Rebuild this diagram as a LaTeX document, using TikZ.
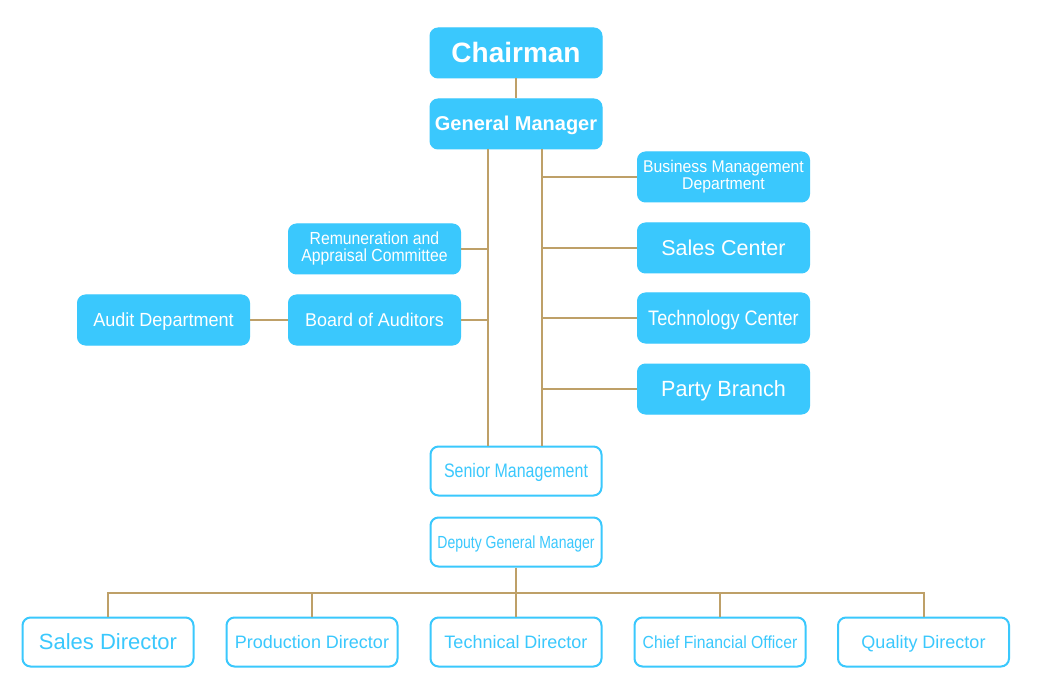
\documentclass[tikz,border=0pt]{standalone}
\usepackage{fontspec}
\setmainfont{Liberation Sans}
\usepackage{graphicx}
\definecolor{boxblue}{RGB}{58,200,253}
\definecolor{linetan}{RGB}{190,160,104}
\newcommand{\fs}[2]{\fontsize{#1}{#2}\selectfont}
\newcommand{\sx}[2]{\scalebox{#1}[1]{#2}}
\newcommand{\cc}[1]{\smash{#1}\vphantom{H}}
\tikzset{
  filled/.style={rectangle, rounded corners=8pt, fill=boxblue, draw=boxblue, line width=1pt,
    minimum width=172pt, minimum height=50pt, text=white, inner sep=0pt, align=center},
  outlined/.style={rectangle, rounded corners=8pt, fill=white, draw=boxblue, line width=2pt,
    minimum width=171pt, minimum height=49pt, text=boxblue, inner sep=0pt, align=center},
  conn/.style={draw=linetan, line width=2pt},
}
\begin{document}
\begin{tikzpicture}[x=1pt,y=-1pt]
\useasboundingbox[fill=white] (0,0) rectangle (1042,695);
% top
\node[filled] (chair) at (516,53) {\fs{28}{30}\bfseries\cc{Chairman}};
\node[filled] (gm) at (516,124) {\fs{20}{22}\bfseries\cc{General Manager}};
% right column
\node[filled] (bmd) at (723.5,177) {\sx{0.93}{\fs{17}{16}\begin{tabular}{@{}c@{}}Business Management\\Department\end{tabular}}};
\node[filled] (sc) at (723.5,248) {\fs{21.5}{24}\cc{Sales Center}};
\node[filled] (tc) at (723.5,318) {\sx{0.86}{\fs{21}{24}\cc{Technology Center}}};
\node[filled] (pb) at (723.5,389) {\sx{0.98}{\fs{22}{24}\cc{Party Branch}}};
% left column
\node[filled] (rem) at (374.5,249) {\sx{0.9}{\fs{17.5}{15}\begin{tabular}{@{}c@{}}Remuneration and\\Appraisal Committee\end{tabular}}};
\node[filled] (boa) at (374.5,320) {\sx{0.97}{\fs{18.5}{20}\cc{Board of Auditors}}};
\node[filled] (audit) at (163.5,320) {\sx{0.95}{\fs{19}{20}\cc{Audit Department}}};
% middle
\node[outlined] (sm) at (516,471) {\sx{0.82}{\fs{19.5}{20}\cc{Senior Management}}};
\node[outlined] (dgm) at (516,542) {\sx{0.8}{\fs{17.5}{18}\cc{Deputy General Manager}}};
% bottom row
\node[outlined] (sd) at (108,642) {\fs{22}{24}\cc{Sales Director}};
\node[outlined] (pd) at (312,642) {\fs{18}{20}\cc{Production Director}};
\node[outlined] (td) at (516,642) {\fs{18}{20}\cc{Technical Director}};
\node[outlined] (cfo) at (720,642) {\sx{0.9}{\fs{17.5}{20}\cc{Chief Financial Officer}}};
\node[outlined] (qd) at (923.5,642) {\fs{18}{20}\cc{Quality Director}};
% helper coordinates
\coordinate (L) at (488,0);
\coordinate (R) at (542,0);
\coordinate (bus) at (516,593);
% connectors
\draw[conn] (chair) -- (gm);
\draw[conn] (gm.south -| L) -- (sm.north -| L);
\draw[conn] (gm.south -| R) -- (sm.north -| R);
\draw[conn] (bmd.west -| R) -- (bmd.west);
\draw[conn] (sc.west -| R) -- (sc.west);
\draw[conn] (tc.west -| R) -- (tc.west);
\draw[conn] (pb.west -| R) -- (pb.west);
\draw[conn] (rem.east) -- (rem.east -| L);
\draw[conn] (boa.east) -- (boa.east -| L);
\draw[conn] (audit.east) -- (boa.west);
\draw[conn] (dgm.south) -- (bus);
\draw[conn] ([xshift=-1pt]sd.north |- bus) -- ([xshift=1pt]qd.north |- bus);
\foreach \n in {sd,pd,td,cfo,qd}{\draw[conn] (\n.north |- bus) -- (\n.north);}
\end{tikzpicture}
\end{document}
